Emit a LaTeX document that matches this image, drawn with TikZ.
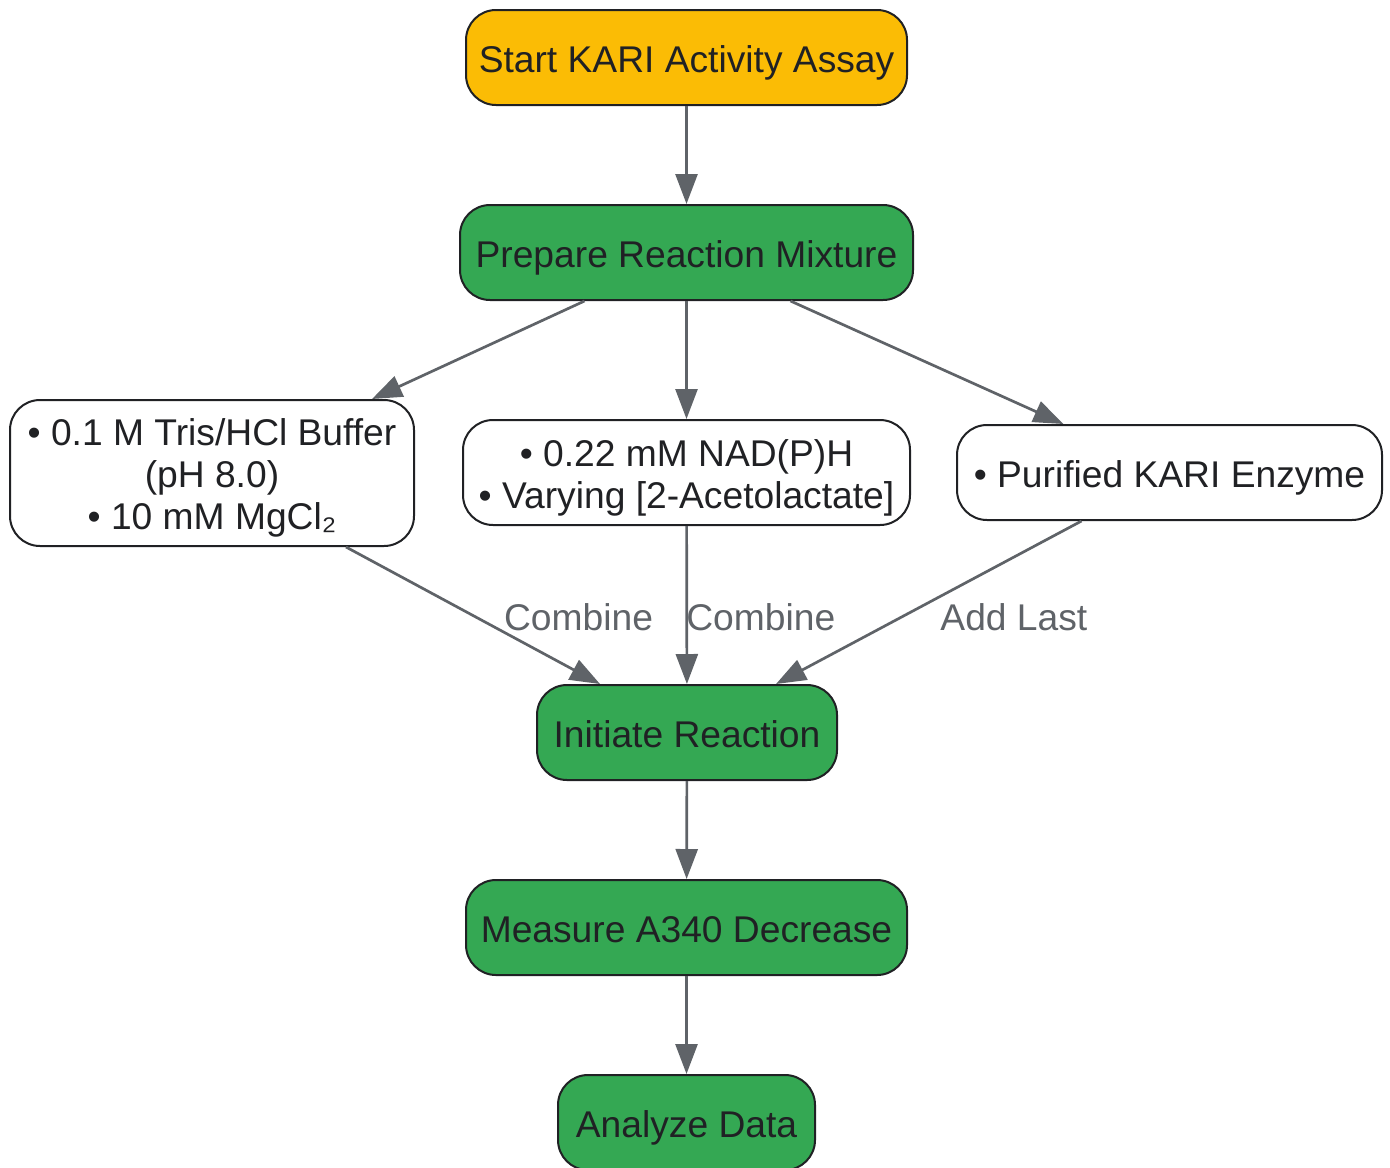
\documentclass[tikz,border=0pt]{standalone}
\usepackage{fontspec}
\setmainfont{Liberation Sans}
\usetikzlibrary{arrows.meta}
\definecolor{startyellow}{HTML}{FBBC05}
\definecolor{stepgreen}{HTML}{34A853}
\definecolor{inktext}{HTML}{202124}
\definecolor{linegray}{HTML}{5F6368}
\newcommand{\headstrut}{\rule{0pt}{19.6pt}}

\begin{document}
\begin{tikzpicture}[x=0.5pt,y=-0.5pt,
                    font=\fontsize{18.6}{21}\selectfont]
  \tikzstyle{box}=[draw=inktext,line width=1pt,rounded corners=15pt,
                   align=center,minimum height=47.5pt,inner sep=0pt,text=inktext,
                   execute at begin node={\rule{0pt}{19.5pt}},
                   execute at end node={\rule[-5pt]{0pt}{5pt}}]
  \tikzstyle{startbox}=[box,fill=startyellow]
  \tikzstyle{greenbox}=[box,fill=stepgreen]
  \tikzstyle{itembox}=[box,fill=white]
  \tikzstyle{flow}=[draw=linegray,line width=1.35pt,
                    -{Triangle[length=15pt,width=11pt]}]
  \tikzstyle{lbl}=[text=linegray,inner sep=0pt]

  \useasboundingbox (0,0) rectangle (1390,1167);

  \node[startbox,minimum width=220.5pt] (start)   at (686.5,57.5)   {Start KARI Activity Assay};
  \node[greenbox,minimum width=226.5pt] (prep)    at (686.5,252.5)  {Prepare Reaction Mixture};
  \node[itembox,minimum width=202pt,minimum height=73pt]
                                        (buffer)  at (212,473)      {\headstrut• 0.1 M Tris/HCl Buffer\\(pH 8.0)\\• 10 mM MgCl₂};
  \node[itembox,minimum width=223.5pt,minimum height=52.5pt]
                                        (nad)     at (686.5,472.5)  {\headstrut• 0.22 mM NAD(P)H\\• Varying [2-Acetolactate]};
  \node[itembox,minimum width=212.5pt]  (enzyme)  at (1169.5,472.5) {• Purified KARI Enzyme};
  \node[greenbox,minimum width=150pt]   (init)    at (687,732.5)    {Initiate Reaction};
  \node[greenbox,minimum width=220.5pt] (measure) at (686.5,927.5)  {Measure A340 Decrease};
  \node[greenbox,minimum width=128.5pt] (analyze) at (686.5,1122.5) {Analyze Data};

  \path (start) edge[flow] (prep)
        ([xshift=-51pt]prep.south) edge[flow] ([xshift=80pt]buffer.north)
        (prep) edge[flow] (nad)
        ([xshift=52pt]prep.south) edge[flow] ([xshift=-53pt]enzyme.north)
        ([xshift=67pt]buffer.south) edge[flow]
            node[lbl,pos=0.51,xshift=51.5pt] {Combine} ([xshift=-43.5pt]init.north)
        (nad) edge[flow] node[lbl,pos=0.575,xshift=37pt] {Combine} (init)
        ([xshift=-44pt]enzyme.south) edge[flow]
            node[lbl,pos=0.588,xshift=56pt] {Add Last} ([xshift=44.5pt]init.north)
        (init) edge[flow] (measure)
        (measure) edge[flow] (analyze)
  ; %end path

\end{tikzpicture}
\end{document}
